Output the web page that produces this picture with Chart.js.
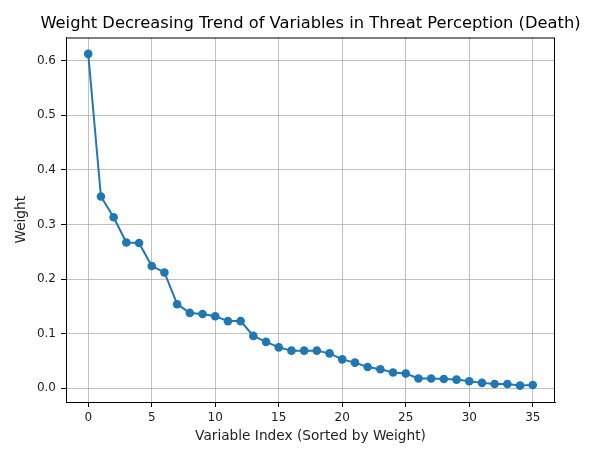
<!DOCTYPE html>
<html>
<head>
<meta charset="utf-8">
<script src="https://cdn.jsdelivr.net/npm/chart.js@4/dist/chart.umd.min.js"></script>
<style>
  html, body { margin: 0; padding: 0; background: #fff; }
  #wrap { width: 592px; height: 450px; }
</style>
</head>
<body>
<div id="wrap"><canvas id="weightChart" width="592" height="450"></canvas></div>
<script>
// variable index (sorted by weight) and its weight
const variableIndex = [0, 1, 2, 3, 4, 5, 6, 7, 8, 9, 10, 11, 12, 13, 14, 15, 16, 17,
  18, 19, 20, 21, 22, 23, 24, 25, 26, 27, 28, 29, 30, 31, 32, 33, 34, 35];
const weights = [0.612, 0.351, 0.313, 0.267, 0.266, 0.224, 0.212, 0.154, 0.138, 0.136,
  0.132, 0.123, 0.123, 0.096, 0.085, 0.075, 0.069, 0.069, 0.069, 0.064,
  0.053, 0.047, 0.039, 0.035, 0.029, 0.027, 0.018, 0.018, 0.017, 0.016,
  0.013, 0.010, 0.008, 0.008, 0.005, 0.006];
const xTicks = [0, 5, 10, 15, 20, 25, 30, 35];
const yTicks = [0.0, 0.1, 0.2, 0.3, 0.4, 0.5, 0.6];
const titleText = 'Weight Decreasing Trend of Variables in Threat Perception (Death)';

const font = 'DejaVu Sans';
const gridColor = '#b0b0b0';

// matplotlib-style full box around the plot, title centred over the axes
const frame = {
  id: 'frame',
  afterDraw(chart) {
    const { ctx, chartArea: a } = chart;
    ctx.save();
    ctx.strokeStyle = '#000';
    ctx.lineWidth = 1;
    ctx.strokeRect(a.left + 0.5, a.top + 0.5, a.right - a.left - 1, a.bottom - a.top);
    ctx.fillStyle = '#000';
    ctx.font = '16.3px "' + font + '"';
    ctx.textAlign = 'center';
    ctx.textBaseline = 'alphabetic';
    ctx.fillText(titleText, (a.left + a.right) / 2, 27.5);
    ctx.restore();
  }
};

const ctx = document.getElementById('weightChart').getContext('2d');
new Chart(ctx, {
  type: 'line',
  data: {
    datasets: [{
      label: 'Weight',
      data: variableIndex.map((x, i) => ({ x: x, y: weights[i] })),
      borderColor: '#1f77b4',
      backgroundColor: '#1f77b4',
      borderWidth: 2,
      pointRadius: 4.3,
      pointHoverRadius: 4.3,
      pointBorderWidth: 0,
      tension: 0
    }]
  },
  options: {
    responsive: false,
    animation: false,
    layout: { padding: { left: 0, right: 37, top: 37.5, bottom: 0 } },
    plugins: {
      legend: { display: false },
      tooltip: { enabled: false },
      title: { display: false }
    },
    scales: {
      x: {
        type: 'linear',
        min: -1.75,
        max: 36.75,
        afterBuildTicks: s => { s.ticks = xTicks.map(v => ({ value: v })); },
        afterFit: s => { s.height = 48; },
        ticks: { color: '#222', font: { family: font, size: 12 }, padding: 4, maxRotation: 0 },
        grid: { color: gridColor, lineWidth: 0.8, tickLength: 5, tickColor: '#000', tickWidth: 1 },
        border: { display: true, color: '#000', width: 1 },
        title: {
          display: true,
          text: 'Variable Index (Sorted by Weight)',
          color: '#222',
          font: { family: font, size: 13.7 },
          padding: { top: 5, bottom: 5 }
        }
      },
      y: {
        min: -0.025,
        max: 0.642,
        afterBuildTicks: s => { s.ticks = yTicks.map(v => ({ value: v })); },
        afterFit: s => { s.width = 66; },
        ticks: { color: '#222', font: { family: font, size: 12 }, padding: 5, callback: v => v.toFixed(1) },
        grid: { color: gridColor, lineWidth: 0.8, tickLength: 5, tickColor: '#000', tickWidth: 1 },
        border: { display: true, color: '#000', width: 1 },
        title: {
          display: true,
          text: 'Weight',
          color: '#222',
          font: { family: font, size: 13.7 },
          padding: { top: 13.5, bottom: 13.5 }
        }
      }
    }
  },
  plugins: [frame]
});
</script>
</body>
</html>
